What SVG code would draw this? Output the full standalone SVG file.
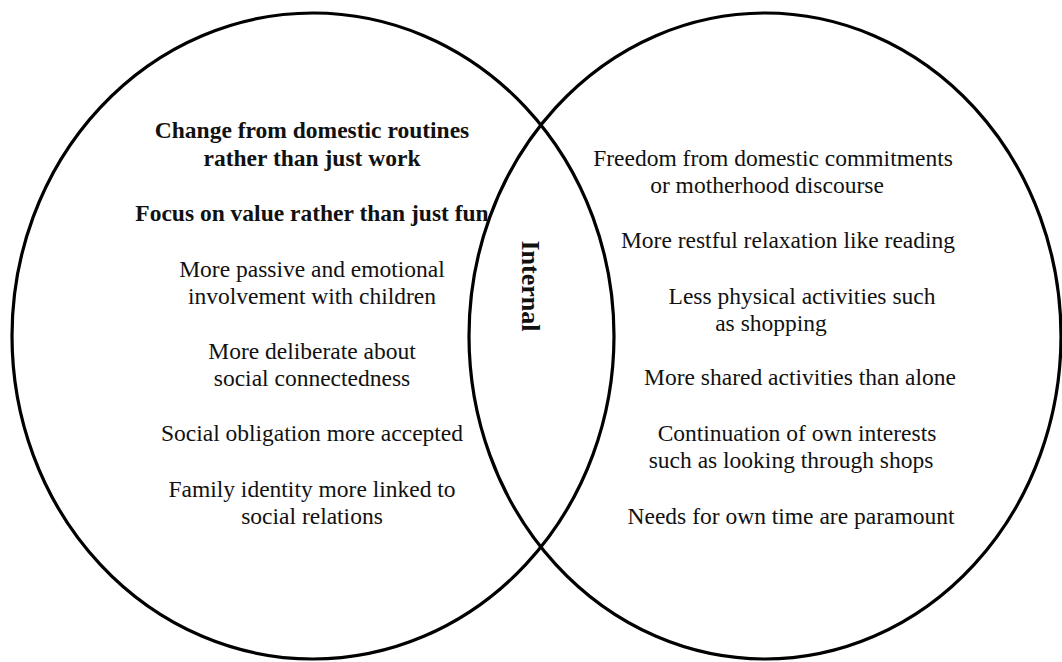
<svg xmlns="http://www.w3.org/2000/svg" width="1062" height="662" viewBox="0 0 1062 662">
<style>
.circle{fill:none;stroke:#000;stroke-width:3.2}
text{font-family:"Liberation Serif","Times New Roman",serif;font-size:23.5px;fill:#111;text-anchor:middle}
.b{font-weight:bold}
</style>
<rect width="1062" height="662" fill="#fff"/>
<g id="left-set">
<ellipse class="circle" cx="313" cy="336" rx="301" ry="323"/>
<text class="b" x="312" y="138">Change from domestic routines</text>
<text class="b" x="312" y="166">rather than just work</text>
<text class="b" x="312" y="221">Focus on value rather than just fun</text>
<text x="312" y="277">More passive and emotional</text>
<text x="312" y="304">involvement with children</text>
<text x="312" y="359">More deliberate about</text>
<text x="312" y="386">social connectedness</text>
<text x="312" y="441">Social obligation more accepted</text>
<text x="312" y="497">Family identity more linked to</text>
<text x="312" y="524">social relations</text>
</g>
<g id="right-set">
<ellipse class="circle" cx="765" cy="336" rx="296" ry="323"/>
<text x="773" y="166">Freedom from domestic commitments</text>
<text x="767" y="193">or motherhood discourse</text>
<text x="788" y="248">More restful relaxation like reading</text>
<text x="802" y="304">Less physical activities such</text>
<text x="771" y="331">as shopping</text>
<text x="800" y="385">More shared activities than alone</text>
<text x="797" y="441">Continuation of own interests</text>
<text x="791" y="468">such as looking through shops</text>
<text x="791" y="524">Needs for own time are paramount</text>
</g>
<g id="intersection">
<text class="b" transform="translate(522,286) rotate(90)" x="0" y="0" style="font-size:26px">Internal</text>
</g>
</svg>
